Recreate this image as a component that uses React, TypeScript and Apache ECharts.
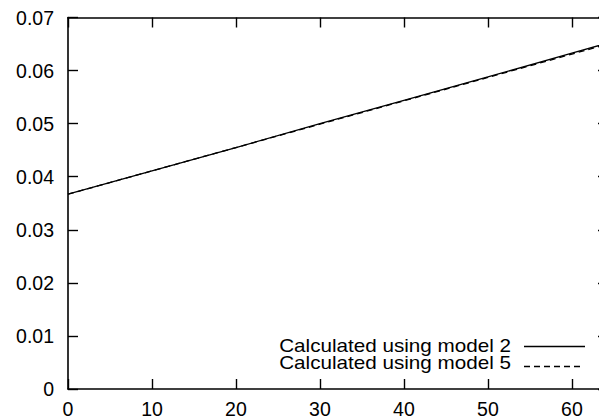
import React, { useEffect, useRef } from "react";
import * as echarts from "echarts";

const xValues = [0, 10, 20, 30, 40, 50, 60, 64.3];
const model2 = [0.0367, 0.0411, 0.0455, 0.05, 0.0544, 0.0588, 0.0633, 0.0652];
const model5 = [0.0367, 0.0411, 0.0455, 0.0499, 0.0543, 0.0587, 0.0631, 0.065];
const seriesNames = ["Calculated using model 2", "Calculated using model 5"];

const FONT = "Liberation Sans, Arial, Helvetica, sans-serif";

const mkLine = () => ({ show: true, onZero: false, lineStyle: { color: "#000", width: 1.6 } });
const mkTick = () => ({ show: true, inside: true, length: 10, lineStyle: { color: "#000", width: 1.4 } });

export default function App() {
  const ref = useRef<HTMLDivElement>(null);
  useEffect(() => {
    if (!ref.current) return;
    const chart = echarts.init(ref.current, null, { renderer: "svg" });
    chart.setOption({
      animation: false,
      backgroundColor: "#fff",
      grid: { left: 68, top: 17.5, right: 32, bottom: 31, containLabel: false, show: false },
      xAxis: [
        {
          type: "value", gridIndex: 0, min: 0, max: 64.3, interval: 10, position: "bottom",
          axisLine: mkLine(), axisTick: mkTick(), splitLine: { show: false },
          axisLabel: { color: "#000", fontFamily: FONT, fontSize: 19.5, margin: 10, showMaxLabel: false },
        },
        {
          type: "value", gridIndex: 0, min: 0, max: 64.3, interval: 10, position: "top",
          axisLine: mkLine(), axisTick: mkTick(), splitLine: { show: false }, axisLabel: { show: false },
        },
      ],
      yAxis: [
        {
          type: "value", gridIndex: 0, min: 0, max: 0.07, interval: 0.01, position: "left",
          axisLine: mkLine(), axisTick: mkTick(), splitLine: { show: false },
          axisLabel: { color: "#000", fontFamily: FONT, fontSize: 19.5, margin: 14,
            formatter: (v: number) => (v === 0 ? "0" : v.toFixed(2)) },
        },
        {
          type: "value", gridIndex: 0, min: 0, max: 0.07, interval: 0.01, position: "right",
          axisLine: mkLine(), axisTick: mkTick(), splitLine: { show: false }, axisLabel: { show: false },
        },
      ],
      series: [
        {
          name: seriesNames[0], type: "line", showSymbol: false, xAxisIndex: 0, yAxisIndex: 0,
          data: xValues.map((x, i) => [x, model2[i]]),
          lineStyle: { color: "#000", width: 1.3, type: "solid" },
        },
        {
          name: seriesNames[1], type: "line", showSymbol: false, xAxisIndex: 0, yAxisIndex: 0,
          data: xValues.map((x, i) => [x, model5[i]]),
          lineStyle: { color: "#000", width: 1.3, type: [6, 4] },
        },
      ],
      graphic: [
        { type: "text", x: 511, y: 345, scaleX: 1.148, originX: 0,
          style: { text: seriesNames[0], font: `18px ${FONT}`, fill: "#000", textAlign: "right", textVerticalAlign: "middle" } },
        { type: "text", x: 511, y: 362.5, scaleX: 1.148, originX: 0,
          style: { text: seriesNames[1], font: `18px ${FONT}`, fill: "#000", textAlign: "right", textVerticalAlign: "middle" } },
        { type: "line", shape: { x1: 524, y1: 346.5, x2: 585, y2: 346.5 }, style: { stroke: "#000", lineWidth: 1.3 } },
        { type: "line", shape: { x1: 524, y1: 366.5, x2: 584, y2: 366.5 }, style: { stroke: "#000", lineWidth: 1.3, lineDash: [6, 4] } },
      ],
    });
    return () => chart.dispose();
  }, []);
  return (
    <div style={{ position: "fixed", left: 0, top: 0, width: 599, height: 420, overflow: "hidden", background: "#fff" }}>
      <div ref={ref} style={{ width: 640, height: 420 }} />
    </div>
  );
}
